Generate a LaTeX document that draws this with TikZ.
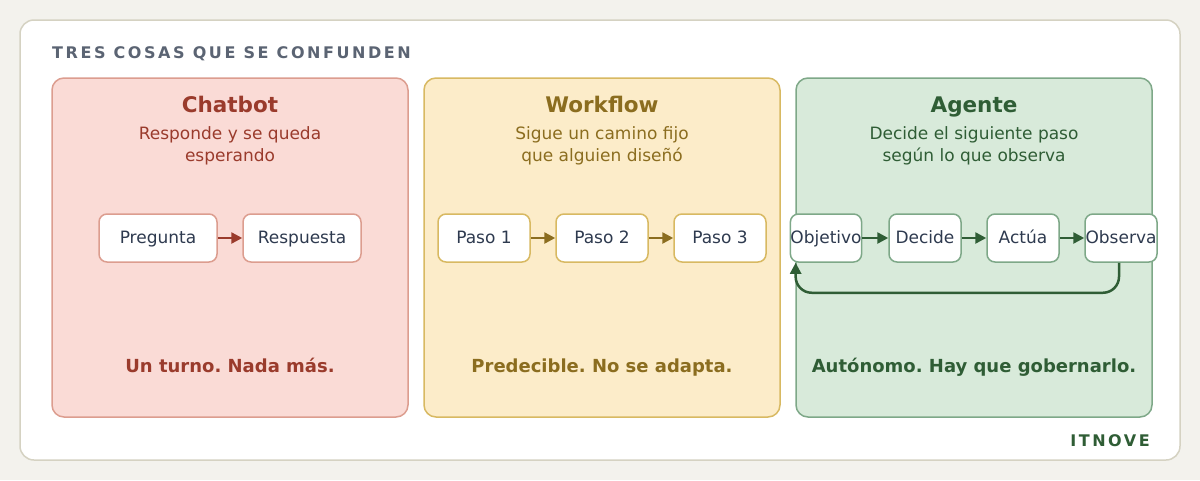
\documentclass[tikz,border=0pt]{standalone}
\usepackage{fontspec}
\setmainfont{DejaVu Sans}
\newfontfamily\spacedfont[LetterSpace=16]{DejaVu Sans}
\usetikzlibrary{arrows.meta,positioning}
\frenchspacing

\definecolor{pagebg}{HTML}{F3F2ED}
\definecolor{cardline}{HTML}{D5D2C2}
\definecolor{headgray}{HTML}{5B6473}
\definecolor{ink}{HTML}{2E3A4F}
\definecolor{redfill}{HTML}{FADBD6}
\definecolor{redline}{HTML}{DC9D8F}
\definecolor{redtext}{HTML}{9A3B2C}
\definecolor{yelfill}{HTML}{FCECC9}
\definecolor{yelline}{HTML}{D8B962}
\definecolor{yeltext}{HTML}{8B6D1F}
\definecolor{grnfill}{HTML}{D8EADA}
\definecolor{grnline}{HTML}{7EA888}
\definecolor{grntext}{HTML}{2F5D35}

\begin{document}
\begin{tikzpicture}[
  x=1pt, y=-1pt,
  panel/.style={draw, line width=1.5pt, rounded corners=12pt, minimum width=356pt, minimum height=339pt},
  stepbox/.style={draw, line width=1.5pt, fill=white, rounded corners=8pt, minimum height=48pt, inner sep=0pt, text height=15pt, text depth=4pt, text=ink, font=\fontsize{17}{20}\selectfont},
  ptitle/.style={anchor=base, font=\bfseries\fontsize{21.5}{25}\selectfont},
  psub/.style={anchor=north, align=center, inner sep=0pt, font=\fontsize{17}{22.5}\selectfont},
  pfoot/.style={anchor=base, font=\bfseries\fontsize{18}{21}\selectfont},
  link/.style={line width=2.5pt, -{Triangle[length=11pt,width=11pt]}}
]
  \fill[pagebg] (0,0) rectangle (1200,480);
  \node[draw=cardline, fill=white, line width=1.5pt, rounded corners=14pt, minimum width=1160pt, minimum height=440pt] (card) at (600,240) {};
  \node[anchor=base west, inner sep=0pt, text=headgray, font=\spacedfont\bfseries\fontsize{16}{19}\selectfont] (head) at (52,58) {TRES COSAS QUE SE CONFUNDEN};

  \node[panel, fill=redfill, draw=redline] (chat) at (230,247.5) {};
  \node[panel, fill=yelfill, draw=yelline] (flow) at (602,247.5) {};
  \node[panel, fill=grnfill, draw=grnline] (agent) at (974,247.5) {};

  \node[ptitle, text=redtext] (chatT) at (230,112) {Chatbot};
  \node[psub, text=redtext] (chatS) at (230,126) {Responde y se queda\\esperando};
  \node[ptitle, text=yeltext] (flowT) at (602,112) {Workflow};
  \node[psub, text=yeltext] (flowS) at (602,126) {Sigue un camino fijo\\que alguien diseñó};
  \node[ptitle, text=grntext] (agentT) at (974,112) {Agente};
  \node[psub, text=grntext] (agentS) at (974,126) {Decide el siguiente paso\\según lo que observa};

  \node[stepbox, draw=redline, minimum width=118pt] (ask) at (158,238) {Pregunta};
  \node[stepbox, draw=redline, minimum width=118pt] (reply) at (302,238) {Respuesta};
  \draw[link, redtext] (ask) -- (reply);

  \node[stepbox, draw=yelline, minimum width=92pt] (p1) at (484,238) {Paso 1};
  \node[stepbox, draw=yelline, minimum width=92pt] (p2) at (602,238) {Paso 2};
  \node[stepbox, draw=yelline, minimum width=92pt] (p3) at (720,238) {Paso 3};
  \draw[link, yeltext] (p1) -- (p2);
  \draw[link, yeltext] (p2) -- (p3);

  \node[stepbox, draw=grnline, minimum width=70pt] (goal) at (826,238) {Objetivo};
  \node[stepbox, draw=grnline, minimum width=72pt] (decide) at (925,238) {Decide};
  \node[stepbox, draw=grnline, minimum width=72pt] (act) at (1023,238) {Actúa};
  \node[stepbox, draw=grnline, minimum width=72pt] (watch) at (1121,238) {Observa};
  \draw[link, grntext] (goal) -- (decide);
  \draw[link, grntext] (decide) -- (act);
  \draw[link, grntext] (act) -- (watch);
  \draw[link, grntext, rounded corners=16pt] ([xshift=-2pt]watch.south) -- ++(0,30) -| ([xshift=6pt]goal.south west);

  \node[pfoot, text=redtext] (chatF) at (230,372) {Un turno. Nada más.};
  \node[pfoot, text=yeltext] (flowF) at (602,372) {Predecible. No se adapta.};
  \node[pfoot, text=grntext] (agentF) at (974,372) {Autónomo. Hay que gobernarlo.};

  \node[anchor=base east, inner sep=0pt, text=grntext, font=\spacedfont\bfseries\fontsize{16}{19}\selectfont] (brand) at (1150,446) {ITNOVE};
\end{tikzpicture}
\end{document}
